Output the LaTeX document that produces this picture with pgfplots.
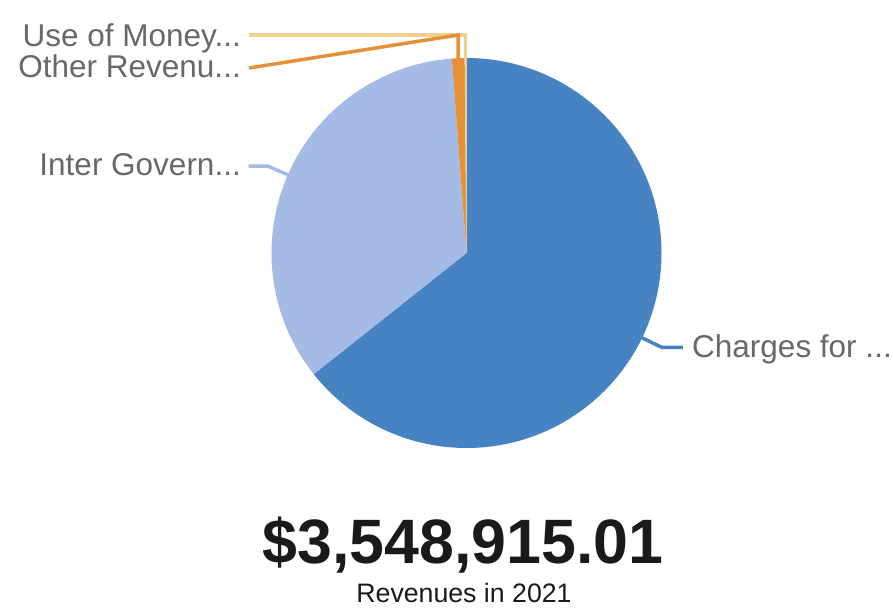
\documentclass[border=0pt]{standalone}
\usepackage{pgfplots}
\pgfplotsset{compat=1.18}
\usepackage{pgfplotstable}
\usepackage{fontspec}
\setmainfont{Liberation Sans}

\definecolor{cCharges}{RGB}{71,130,195}
\definecolor{cInter}{RGB}{163,187,229}
\definecolor{cOther}{RGB}{230,145,56}
\definecolor{cUse}{RGB}{239,208,142}
\definecolor{cLabel}{RGB}{104,104,104}
\definecolor{cTitle}{RGB}{26,26,26}

% revenue values in thousands of dollars (total 3,548.9)
\pgfplotstableread[col sep=comma]{
label,value
Charges,2283.0
Inter,1223.3
Other,37.3
Use,5.3
}\revenues

\pgfplotstablegetelem{0}{value}\of\revenues\pgfmathsetmacro\vA{\pgfplotsretval}
\pgfplotstablegetelem{1}{value}\of\revenues\pgfmathsetmacro\vB{\pgfplotsretval}
\pgfplotstablegetelem{2}{value}\of\revenues\pgfmathsetmacro\vC{\pgfplotsretval}
\pgfplotstablegetelem{3}{value}\of\revenues\pgfmathsetmacro\vD{\pgfplotsretval}
\pgfmathsetmacro\tot{\vA+\vB+\vC+\vD}
\pgfmathsetmacro\aA{90-360*(\vA/\tot)}
\pgfmathsetmacro\aB{\aA-360*(\vB/\tot)}
\pgfmathsetmacro\aC{\aB-360*(\vC/\tot)}
\pgfmathsetmacro\aD{\aC-360*(\vD/\tot)}
\pgfmathsetmacro\mA{(90+\aA)/2}
\pgfmathsetmacro\mB{(\aA+\aB)/2}
\pgfmathsetmacro\mC{(\aB+\aC)/2}
\pgfmathsetmacro\mD{(\aC+\aD)/2}

\begin{document}
\begin{tikzpicture}
\begin{axis}[x=1pt,y=1pt,xmin=0,xmax=893,ymin=0,ymax=611,hide axis,clip=false]
% slices
\fill[cCharges] (axis cs:466.5,358) -- ++(90:195pt) arc[start angle=90, end angle=\aA, radius=195pt] -- cycle;
\fill[cInter] (axis cs:466.5,358) -- ++(\aA:195pt) arc[start angle=\aA, end angle=\aB, radius=195pt] -- cycle;
\fill[cOther] (axis cs:466.5,358) -- ++(\aB:195pt) arc[start angle=\aB, end angle=\aC, radius=195pt] -- cycle;
\fill[cUse] (axis cs:466.5,358) -- ++(\aC:195pt) arc[start angle=\aC, end angle=\aD, radius=195pt] -- cycle;
% leader lines
\draw[cCharges, line width=3.5pt] (axis cs:466.5,358) ++(\mA:195pt) -- ++(\mA:22pt) -- ++(21pt,0);
\draw[cInter, line width=3.5pt] (axis cs:466.5,358) ++(\mB:195pt) -- ++(\mB:22pt) -- ++(-19pt,0);
\draw[cUse, line width=3.5pt] (axis cs:466.5,358) ++(\mD:195pt) coordinate (u1) -- (u1 |- {axis cs:0,576}) -- (axis cs:249,576);
\draw[cOther, line width=3.5pt] (axis cs:466.5,358) ++(\mC:195pt) coordinate (o1) -- (o1 |- {axis cs:0,576}) -- (axis cs:249,543);
% labels
\node[anchor=base east, inner sep=0pt, text=cLabel, font=\fontsize{31.5}{37}\selectfont] at (axis cs:241,564) {Use of Money...};
\node[anchor=base east, inner sep=0pt, text=cLabel, font=\fontsize{31.5}{37}\selectfont] at (axis cs:241,533) {Other Revenu...};
\node[anchor=base east, inner sep=0pt, text=cLabel, font=\fontsize{31.5}{37}\selectfont] at (axis cs:241,435) {Inter Govern...};
\node[anchor=base west, inner sep=0pt, text=cLabel, font=\fontsize{31.5}{37}\selectfont] at (axis cs:692,254) {Charges for ...};
% total
\node[anchor=base, inner sep=0pt, text=cTitle, font=\bfseries\fontsize{62.7}{74}\selectfont] at (axis cs:463,48) {\$3,548,915.01};
\node[anchor=base, inner sep=0pt, text=cTitle, font=\fontsize{26.7}{32}\selectfont] at (axis cs:464,9) {Revenues in 2021};
\end{axis}
\pgfresetboundingbox
\path[use as bounding box] (current axis.south west) rectangle (current axis.north east);
\end{tikzpicture}
\end{document}
